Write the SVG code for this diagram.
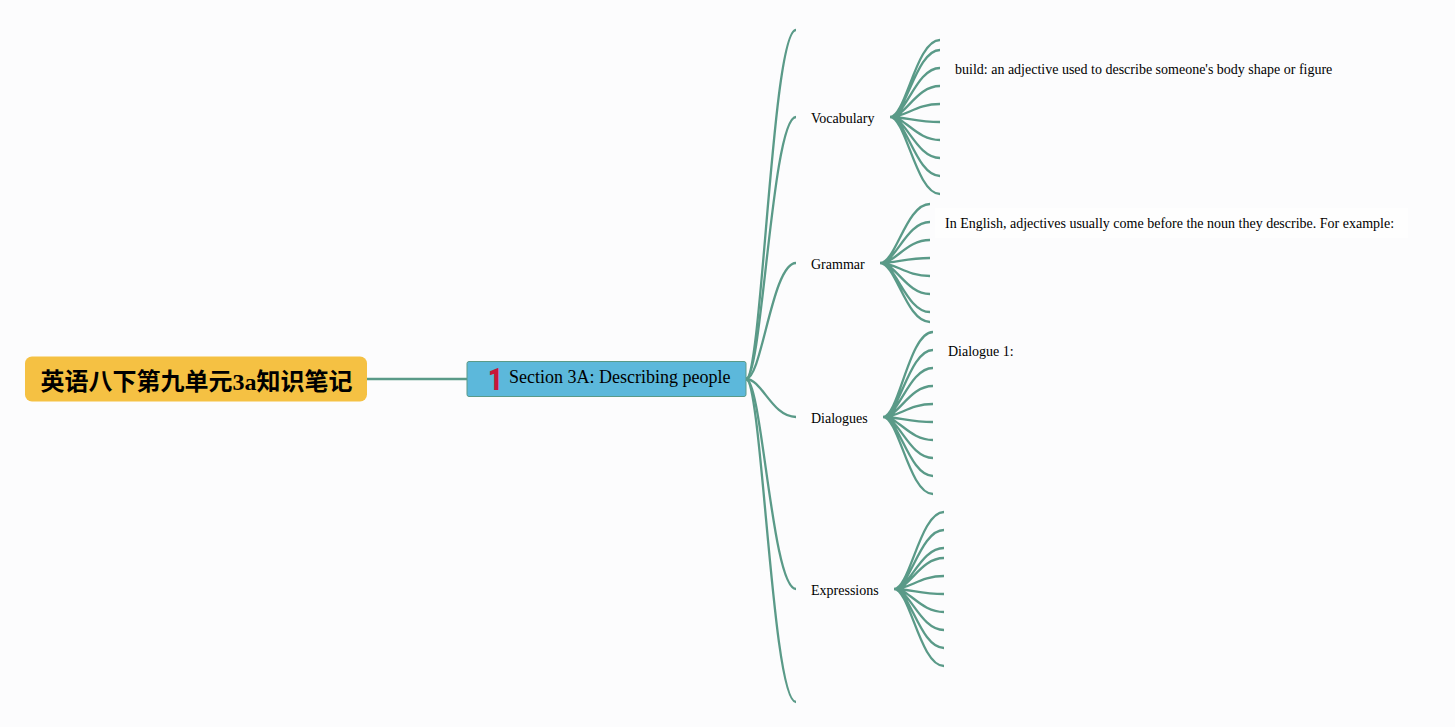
<svg xmlns="http://www.w3.org/2000/svg" width="1455" height="727" viewBox="0 0 1455 727">
<style>
.c{fill:none;stroke:#5a9a88;stroke-width:2.300}
.t{font-family:"Liberation Serif","Noto Sans CJK SC",serif;fill:#000;font-size:14px}
</style>
<rect width="1455" height="727" fill="#fcfcfd"/>
<g id="connectors">
<path class="c" d="M367 379H467"/>
<path class="c" d="M746 379C762 379 772 30 796 30"/>
<path class="c" d="M746 379C762 379 772 117 796 117"/>
<path class="c" d="M746 379C762 379 772 263 796 263"/>
<path class="c" d="M746 379C762 379 772 417 796 417"/>
<path class="c" d="M746 379C762 379 772 589 796 589"/>
<path class="c" d="M746 379C762 379 772 702 796 702"/>
<path class="c" d="M890 117C906 117 916 40 940 40M890 117C906 117 916 50 940 50M890 117C906 117 916 68 940 68M890 117C906 117 916 86 940 86M890 117C906 117 916 104 940 104M890 117C906 117 916 122 940 122M890 117C906 117 916 140 940 140M890 117C906 117 916 158 940 158M890 117C906 117 916 176 940 176M890 117C906 117 916 194 940 194"/>
<path class="c" d="M880 263C896 263 906 204 930 204M880 263C896 263 906 222 930 222M880 263C896 263 906 240 930 240M880 263C896 263 906 258 930 258M880 263C896 263 906 276 930 276M880 263C896 263 906 294 930 294M880 263C896 263 906 312 930 312M880 263C896 263 906 322 930 322"/>
<path class="c" d="M883 417C899 417 909 332 933 332M883 417C899 417 909 350 933 350M883 417C899 417 909 368 933 368M883 417C899 417 909 386 933 386M883 417C899 417 909 404 933 404M883 417C899 417 909 422 933 422M883 417C899 417 909 440 933 440M883 417C899 417 909 458 933 458M883 417C899 417 909 476 933 476M883 417C899 417 909 494 933 494"/>
<path class="c" d="M894 589C910 589 920 512 944 512M894 589C910 589 920 530 944 530M894 589C910 589 920 548 944 548M894 589C910 589 920 558 944 558M894 589C910 589 920 576 944 576M894 589C910 589 920 594 944 594M894 589C910 589 920 612 944 612M894 589C910 589 920 630 944 630M894 589C910 589 920 648 944 648M894 589C910 589 920 666 944 666"/>
</g>
<g id="root">
<rect x="25" y="356.500" width="342" height="45" rx="7" fill="#f5c143"/>
<text x="40.500" y="390" class="t" style="font-size:24px;font-weight:700">英语八下第九单元3a知识笔记</text>
</g>
<g id="section">
<rect x="467" y="361.500" width="279" height="35" rx="2" fill="#5cb8db" stroke="#5a9a88"/>
<text transform="translate(488 390) scale(.8 1)" style="font-family:Roboto,sans-serif;font-size:32px;font-weight:900" fill="#c8153a">1</text>
<text x="509" y="383" class="t" style="font-size:18px">Section 3A: Describing people</text>
</g>
<g id="vocabulary"><text x="811" y="123" class="t">Vocabulary</text></g>
<g id="grammar"><text x="811" y="269" class="t">Grammar</text></g>
<g id="dialogues"><text x="811" y="423" class="t">Dialogues</text></g>
<g id="expressions"><text x="811" y="595" class="t">Expressions</text></g>
<g id="build"><text x="955" y="74" class="t">build: an adjective used to describe someone's body shape or figure</text></g>
<g id="adjectives"><rect x="935" y="208" width="473" height="30" fill="#fefefe"/><text x="945" y="228" class="t">In English, adjectives usually come before the noun they describe. For example:</text></g>
<g id="dialogue1"><text x="948" y="356" class="t">Dialogue 1:</text></g>
</svg>
